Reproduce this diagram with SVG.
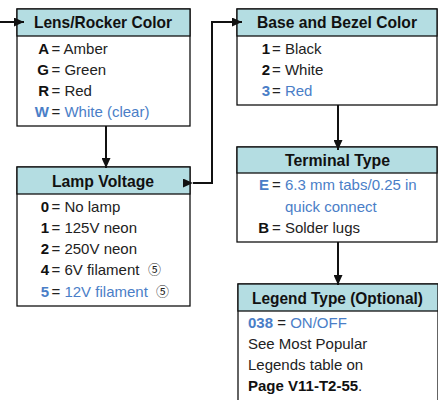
<svg xmlns="http://www.w3.org/2000/svg" width="438" height="400" viewBox="0 0 438 400">
<style>
.box{fill:#fff;stroke:#111;stroke-width:1.3}
.hdr{fill:#b4dde2;stroke:#111;stroke-width:1.3}
.ht{font-family:"Liberation Sans Narrow","Liberation Sans",Arial,sans-serif;font-weight:bold;font-size:17px;fill:#111;text-anchor:middle}
.t{font-family:"Liberation Sans",Arial,sans-serif;font-size:15px;fill:#222}
.k{font-family:"Liberation Sans",Arial,sans-serif;font-size:15px;font-weight:bold;fill:#111;text-anchor:end}
.b{fill:#4a7ec7}
.c{font-family:"Noto Sans CJK JP","DejaVu Sans",sans-serif;font-size:13px;fill:#222}
.con{fill:none;stroke:#111;stroke-width:2}
</style>
<defs>
<marker id="ah" markerUnits="userSpaceOnUse" markerWidth="10" markerHeight="9" refX="10" refY="4.5" orient="auto">
<path d="M0,0 L10,4.5 L0,9 z" fill="#111"/>
</marker>
</defs>

<g id="lens">
<rect class="box" x="17" y="9" width="173" height="117"/>
<rect class="hdr" x="17" y="9" width="173" height="27"/>
<text class="ht" x="103" y="27.5" textLength="138" lengthAdjust="spacingAndGlyphs">Lens/Rocker Color</text>
<text class="k" x="49" y="54">A</text><text class="t" x="51.5" y="54">= Amber</text>
<text class="k" x="49" y="75">G</text><text class="t" x="51.5" y="75">= Green</text>
<text class="k" x="49" y="96">R</text><text class="t" x="51.5" y="96">= Red</text>
<text class="k b" x="49" y="117">W</text><text class="t" x="51.5" y="117">= <tspan class="b">White (clear)</tspan></text>
</g>

<g id="lamp">
<rect class="box" x="17" y="167" width="173" height="139"/>
<rect class="hdr" x="17" y="167" width="173" height="27"/>
<text class="ht" x="103" y="186.5" textLength="102" lengthAdjust="spacingAndGlyphs">Lamp Voltage</text>
<text class="k" x="49" y="212">0</text><text class="t" x="51.5" y="212">= No lamp</text>
<text class="k" x="49" y="233">1</text><text class="t" x="51.5" y="233">= 125V neon</text>
<text class="k" x="49" y="254">2</text><text class="t" x="51.5" y="254">= 250V neon</text>
<text class="k" x="49" y="275">4</text><text class="t" x="51.5" y="275">= 6V filament</text><text class="c" x="148" y="274">⑤</text>
<text class="k b" x="49" y="297">5</text><text class="t" x="51.5" y="297">= <tspan class="b">12V filament</tspan></text><text class="c" x="156" y="296">⑤</text>
</g>

<g id="base">
<rect class="box" x="237" y="9" width="200" height="96"/>
<rect class="hdr" x="237" y="9" width="200" height="27"/>
<text class="ht" x="337" y="27.5" textLength="160" lengthAdjust="spacingAndGlyphs">Base and Bezel Color</text>
<text class="k" x="270" y="54">1</text><text class="t" x="272" y="54">= Black</text>
<text class="k" x="270" y="75">2</text><text class="t" x="272" y="75">= White</text>
<text class="k b" x="270" y="96">3</text><text class="t" x="272" y="96">= <tspan class="b">Red</tspan></text>
</g>

<g id="terminal">
<rect class="box" x="237" y="147" width="200" height="95"/>
<rect class="hdr" x="237" y="147" width="200" height="26"/>
<text class="ht" x="337.5" y="165.5" textLength="105" lengthAdjust="spacingAndGlyphs">Terminal Type</text>
<text class="k b" x="269" y="190">E</text><text class="t" x="272" y="190">= <tspan class="b">6.3 mm tabs/0.25 in</tspan></text>
<text class="t b" x="285" y="211.5">quick connect</text>
<text class="k" x="269" y="233">B</text><text class="t" x="272" y="233">= Solder lugs</text>
</g>

<g id="legend">
<rect class="box" x="238" y="284" width="200" height="120"/>
<rect class="hdr" x="238" y="284" width="200" height="27"/>
<text class="ht" x="337.5" y="303.5" textLength="171" lengthAdjust="spacingAndGlyphs">Legend Type (Optional)</text>
<text class="t" x="248" y="328"><tspan font-weight="bold" class="b">038</tspan> = <tspan class="b">ON/OFF</tspan></text>
<text class="t" x="248" y="349">See Most Popular</text>
<text class="t" x="248" y="370">Legends table on</text>
<text class="t" x="248" y="391"><tspan font-weight="bold" fill="#111">Page V11-T2-55</tspan>.</text>
</g>

<g id="connectors">
<path class="con" d="M0,22 H24" marker-end="url(#ah)"/>
<path class="con" d="M106,126 V168" marker-end="url(#ah)"/>
<path class="con" d="M193,183 H212 V22 H242" marker-start="url(#ah)" marker-end="url(#ah)"/>
<path class="con" d="M338,105 V150" marker-end="url(#ah)"/>
<path class="con" d="M338,242 V285" marker-end="url(#ah)"/>
</g>
</svg>
